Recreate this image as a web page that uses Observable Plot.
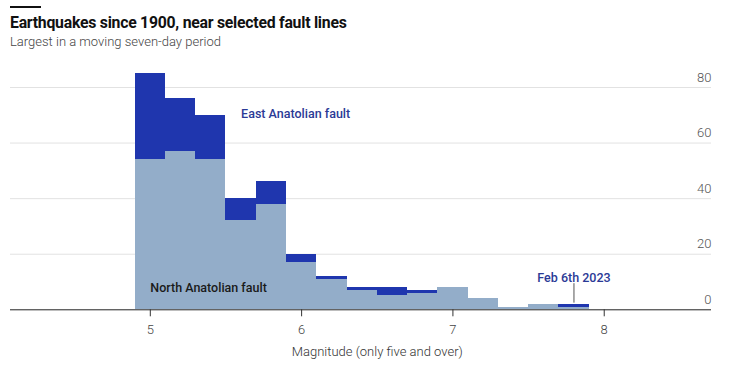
<!DOCTYPE html>
<html>
<head>
<meta charset="utf-8">
<script src="https://cdn.jsdelivr.net/npm/d3@7"></script>
<script src="https://cdn.jsdelivr.net/npm/@observablehq/plot@0.6"></script>
<style>
  body { margin: 0; background: #fff; font-family: Roboto, "Noto Sans", sans-serif; width: 739px; height: 378px; overflow: hidden; }
  #hdr { position: relative; height: 60px; }
  #rule { position: absolute; left: 10px; top: 6px; width: 31px; height: 1.5px; background: #111; }
  #title { position: absolute; left: 10px; top: 13px; font-size: 15.8px; font-weight: 700; color: #111; white-space: nowrap; letter-spacing: -0.25px; }
  #subtitle { position: absolute; left: 10px; top: 34px; font-size: 13px; font-weight: 300; color: #444; white-space: nowrap; }
  #chart svg { display: block; }
</style>
</head>
<body>
<div id="hdr">
  <div id="rule"></div>
  <div id="title">Earthquakes since 1900, near selected fault lines</div>
  <div id="subtitle">Largest in a moving seven-day period</div>
</div>
<div id="chart"></div>
<script>
// Magnitude bins (lower edge, width 0.2)
const binStart = [4.9, 5.1, 5.3, 5.5, 5.7, 5.9, 6.1, 6.3, 6.5, 6.7, 6.9, 7.1, 7.3, 7.5, 7.7];
const binWidth = 0.2;
// Counts per bin
const northAnatolian = [54, 57, 54, 32, 38, 17, 11, 7, 5, 6, 8, 4, 1, 2, 1];
const eastAnatolian  = [31, 19, 16, 8, 8, 3, 1, 1, 3, 1, 0, 0, 0, 0, 1];
const seriesNames = ["North Anatolian fault", "East Anatolian fault"];
const seriesColors = ["#93adc9", "#1f36ae"];
const xTicks = [5, 6, 7, 8];
const yTicks = [0, 20, 40, 60, 80];
const xLabel = "Magnitude (only five and over)";
// annotations
const eastLabel = {text: "East Anatolian fault", x: 5.6, y: 70.3};
const northLabel = {text: "North Anatolian fault", x: 5.0, y: 8.0};
const febLabel = {text: "Feb 6th 2023", x: 7.8, y: 11.6, y1: 2.4, y2: 9.4};

const rows = [];
binStart.forEach((b, i) => {
  rows.push({x1: b, x2: b + binWidth, series: seriesNames[0], value: northAnatolian[i]});
  rows.push({x1: b, x2: b + binWidth, series: seriesNames[1], value: eastAnatolian[i]});
});

const chart = Plot.plot({
  width: 739,
  height: 318,
  marginLeft: 10,
  marginRight: 28,
  marginTop: 27,
  marginBottom: 68.7,
  style: {fontFamily: "Roboto, 'Noto Sans', sans-serif", background: "#fff"},
  x: {domain: [4.076, 8.709], axis: null},
  y: {domain: [0, 80], axis: null},
  color: {domain: seriesNames, range: seriesColors},
  marks: [
    Plot.ruleY(yTicks.filter(d => d > 0), {stroke: "#e2e2e2", strokeWidth: 1}),
    Plot.rectY(rows, {x1: "x1", x2: "x2", y: "value", fill: "series", order: seriesNames, shapeRendering: "crispEdges"}),
    Plot.ruleY([0], {stroke: "#222", strokeWidth: 1}),
    Plot.text(yTicks, {y: d => d, text: d => String(d), frameAnchor: "right", textAnchor: "end", dy: -10, fontSize: 13, fill: "#555", fontWeight: 300}),
    Plot.axisX({ticks: xTicks, tickFormat: d => String(d), tickSize: 7, tickPadding: 8, fontSize: 13, fontWeight: 300, color: "#444", label: null, stroke: "#333"}),
    Plot.text([xLabel], {x: 6.5, frameAnchor: "bottom", dy: 46, text: d => d, fontSize: 13, fill: "#333", fontWeight: 300}),
    Plot.text([eastLabel], {x: "x", y: "y", text: "text", textAnchor: "start", fontSize: 12.5, fontWeight: 500, fill: "#2b3a96"}),
    Plot.text([northLabel], {x: "x", y: "y", text: "text", textAnchor: "start", fontSize: 12.5, fontWeight: 500, fill: "#1a1a1a"}),
    Plot.ruleX([febLabel], {x: "x", y1: "y1", y2: "y2", stroke: "#555", strokeWidth: 1}),
    Plot.text([febLabel], {x: "x", y: "y", text: "text", textAnchor: "middle", fontSize: 12.5, fontWeight: 500, fill: "#2b3a96"})
  ]
});
document.getElementById("chart").appendChild(chart);
</script>
</body>
</html>
